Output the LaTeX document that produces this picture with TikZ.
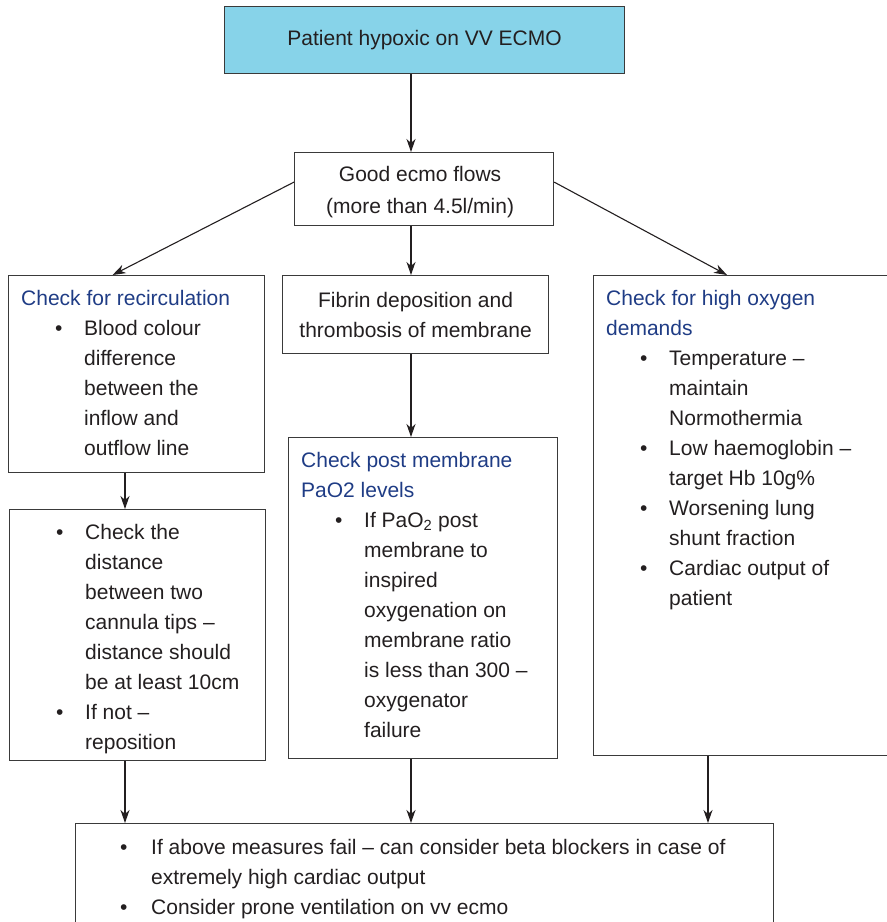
\documentclass[tikz,border=0pt]{standalone}
\usepackage{fontspec}
\setmainfont{Liberation Sans}
\usetikzlibrary{arrows.meta}
\definecolor{ink}{HTML}{231F20}
\definecolor{headblue}{HTML}{1F3C85}
\definecolor{skyfill}{RGB}{135,211,233}
\definecolor{edge}{HTML}{3A3A3A}

% bullet lines inside the boxes
\newcommand\bl{\hspace*{34pt}\makebox[29pt][l]{\textbullet}}
\newcommand\cont{\hspace*{63pt}}
\newcommand\bbl{\hspace*{32pt}\makebox[31pt][l]{\textbullet}}

\begin{document}
\begin{tikzpicture}[x=1pt,y=-1pt,
  box/.style={draw=edge, line width=1.2pt, anchor=north west, inner sep=0pt},
  txt/.style={anchor=north west, inner sep=0pt, align=left, text=ink,
              font=\fontsize{21}{30}\selectfont},
  ctxt/.style={align=center, text=ink, font=\fontsize{21}{30}\selectfont},
  arr/.style={draw=ink, line width=1.1pt, -{Stealth[length=13pt,width=9pt,inset=4pt]}}]

\useasboundingbox (0,0) rectangle (887,922);
\clip (0,0) rectangle (887,922);

% column lines for the vertical connectors
\coordinate (cx) at (411,0);
\coordinate (lx) at (125,0);
\coordinate (rx) at (708,0);

% boxes
\node[box, fill=skyfill, minimum width=400pt, minimum height=67pt, ctxt] (top) at (224,6) {Patient hypoxic on VV ECMO};
\node[box, minimum width=259pt, minimum height=73pt] (good) at (294,152) {};
\node[box, minimum width=256pt, minimum height=197pt] (recirc) at (8,275) {};
\node[box, minimum width=266pt, minimum height=78pt, ctxt] (fibrin) at (282,275) {Fibrin deposition and\\thrombosis of membrane};
\node[box, minimum width=305pt, minimum height=480pt] (demand) at (593,275) {};
\node[box, minimum width=256pt, minimum height=251pt] (cannula) at (9,509) {};
\node[box, minimum width=269pt, minimum height=321pt] (postmem) at (288,437) {};
\node[box, minimum width=698pt, minimum height=130pt] (final) at (75,823) {};

% box texts
\node[ctxt, font=\fontsize{21}{32}\selectfont, xshift=-4pt, yshift=-3pt] (good-t) at (good.center) {Good ecmo flows\\(more than 4.5l/min)};

\node[txt, xshift=13pt, yshift=-9pt] (recirc-t) at (recirc.north west) {%
  \strut{\color{headblue}Check for recirculation}\\
  \bl Blood colour\\
  \cont difference\\
  \cont between the\\
  \cont inflow and\\
  \cont outflow line};

\node[txt, xshift=13pt, yshift=-9pt] (demand-t) at (demand.north west) {%
  \strut{\color{headblue}Check for high oxygen}\\
  {\color{headblue}demands}\\
  \bl Temperature --\\
  \cont maintain\\
  \cont Normothermia\\
  \bl Low haemoglobin --\\
  \cont target Hb 10g\%\\
  \bl Worsening lung\\
  \cont shunt fraction\\
  \bl Cardiac output of\\
  \cont patient};

\node[txt, xshift=13pt, yshift=-9pt] (cannula-t) at (cannula.north west) {%
  \strut\bl Check the\\
  \cont distance\\
  \cont between two\\
  \cont cannula tips --\\
  \cont distance should\\
  \cont be at least 10cm\\
  \bl If not --\\
  \cont reposition};

\node[txt, xshift=13pt, yshift=-9pt] (postmem-t) at (postmem.north west) {%
  \strut{\color{headblue}Check post membrane}\\
  {\color{headblue}PaO2 levels}\\
  \bl If PaO\textsubscript{2} post\\
  \cont membrane to\\
  \cont inspired\\
  \cont oxygenation on\\
  \cont membrane ratio\\
  \cont is less than 300 --\\
  \cont oxygenator\\
  \cont failure};

\node[txt, xshift=13pt, yshift=-10pt] (final-t) at (final.north west) {%
  \strut\bbl If above measures fail -- can consider beta blockers in case of\\
  \cont extremely high cardiac output\\
  \bbl Consider prone ventilation on vv ecmo};

% connectors
\draw[arr] (top.south -| cx) -- (good.north -| cx);
\draw[arr] ([yshift=7pt]good.west) -- ([xshift=-24pt]recirc.north);
\draw[arr] (good.south -| cx) -- (fibrin.north -| cx);
\draw[arr] ([yshift=7pt]good.east) -- (demand.north -| 727,0);
\draw[arr] (fibrin.south -| cx) -- (postmem.north -| cx);
\draw[arr] (recirc.south -| lx) -- (cannula.north -| lx);
\draw[arr] (cannula.south -| lx) -- (final.north -| lx);
\draw[arr] (postmem.south -| cx) -- (final.north -| cx);
\draw[arr] (demand.south -| rx) -- (final.north -| rx);
\end{tikzpicture}
\end{document}
